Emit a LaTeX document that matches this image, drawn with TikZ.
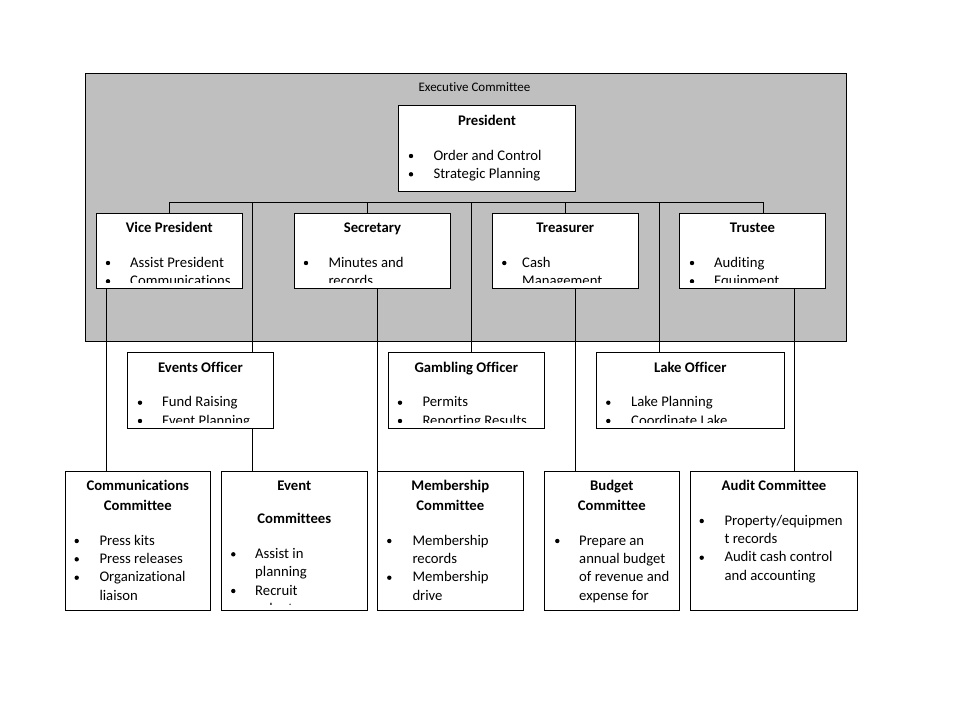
\documentclass[tikz,border=0pt]{standalone}
\usepackage{fontspec}
\setmainfont[Ligatures={NoCommon}]{Carlito}
\usetikzlibrary{calc}
\tikzset{
  box/.style={draw=black, fill=white, line width=0.8pt, inner sep=0pt, outer sep=0pt},
  exbox/.style={draw=black, fill=exgray, line width=0.8pt, inner sep=0pt, outer sep=0pt},
  txt/.style={anchor=base west, inner sep=0pt, font=\fontsize{14.7}{17}\selectfont},
  ttl/.style={anchor=base, inner sep=0pt, font=\bfseries\fontsize{14.7}{17}\selectfont},
  bul/.style={circle, fill=black, inner sep=0pt, minimum size=4.4pt},
  conn/.style={draw=black, line width=0.8pt},
}
\definecolor{exgray}{RGB}{191,191,191}
\newcommand\boxn[6][box]{\node[#1, minimum width={#5-#3}, minimum height={#6-#4}] (#2) at ({(#3+#5)/2},{(#4+#6)/2}) {};}
\newcommand\bline[5]{\node[bul] (#1b) at ({#2},{#4-4}) {}; \node[txt] (#1) at ({#3},{#4}) {#5};}
\newcommand\tline[4]{\node[txt] (#1) at ({#2},{#3}) {#4};}
\newcommand\ttline[4]{\node[ttl] (#1) at ({#2},{#3}) {#4};}
\newcommand\clipto[1]{\clip (#1.north west) rectangle ([yshift=5.5pt]#1.south east);}
\begin{document}
\begin{tikzpicture}[x=1pt,y=-1pt]
\useasboundingbox[fill=white] (0,0) rectangle (960,720);
% executive committee background
\boxn[exbox]{exec}{85}{73}{846.5}{341.7}
\node[anchor=base, inner sep=0pt, font=\fontsize{13}{15}\selectfont] (execlbl) at (474.5,91) {Executive Committee};

% boxes
\boxn{pres}{398.3}{105}{575.7}{191}
\boxn{vp}{96}{213.3}{242.7}{288.3}
\boxn{sec}{294.3}{213.3}{450.7}{288.3}
\boxn{tre}{492.3}{213.3}{638.3}{288.3}
\boxn{tru}{679.3}{213.3}{825.7}{288.3}
\boxn{evo}{127.7}{352.3}{273.3}{428.3}
\boxn{gam}{388.3}{352.3}{544.3}{428.3}
\boxn{lak}{596.3}{352.3}{784.3}{428.3}
\boxn{com}{65.7}{471}{210}{610}
\boxn{evc}{221.7}{471}{367}{610}
\boxn{mem}{377.3}{471}{523.3}{610}
\boxn{bud}{544.3}{471}{679.3}{610}
\boxn{aud}{690.3}{471}{857.7}{610}

% connector coordinates
\coordinate (busR) at (763.3,202.3);
\coordinate (secS) at (367.3,202.3);
\coordinate (treS) at (565.7,202.3);
\coordinate (evS) at (252.3,202.3);
\coordinate (gamS) at (471.5,202.3);
\coordinate (lakS) at (659.3,202.3);
\coordinate (vpD) at (106.7,288.3);
\coordinate (secD) at (377.3,288.3);
\coordinate (treD) at (575.7,288.3);
\coordinate (truD) at (794.3,288.3);

% connectors
\draw[conn] (vp.north) |- (busR) -- (busR |- tru.north);
\draw[conn] (secS) -- (secS |- sec.north);
\draw[conn] (treS) -- (treS |- tre.north);
\draw[conn] (evS) -- (evS |- evo.north);
\draw[conn] (evo.south -| evS) -- (evS |- evc.north);
\draw[conn] (gamS) -- (gamS |- gam.north);
\draw[conn] (lakS) -- (lakS |- lak.north);
\draw[conn] (vpD) -- (vpD |- com.north);
\draw[conn] (secD) -- (secD |- mem.north);
\draw[conn] (treD) -- (treD |- bud.north);
\draw[conn] (truD) -- (truD |- aud.north);

% President
\begin{scope}\clipto{pres}
\ttline{presT}{487}{125}{President}
\bline{presA}{411}{433.3}{160}{Order and Control}
\bline{presB}{411}{433.3}{178.3}{Strategic Planning}
\end{scope}
% Vice President
\begin{scope}\clipto{vp}
\ttline{vpT}{169.3}{232.7}{Vice President}
\bline{vpA}{108}{130}{267}{Assist President}
\bline{vpB}{108}{130}{285.3}{Communications}
\end{scope}
% Secretary
\begin{scope}\clipto{sec}
\ttline{secT}{372.5}{232.7}{Secretary}
\bline{secA}{306}{328.3}{267}{Minutes and}
\tline{secB}{328.3}{285.3}{records}
\end{scope}
% Treasurer
\begin{scope}\clipto{tre}
\ttline{treT}{565.3}{232.7}{Treasurer}
\bline{treA}{504.3}{522}{267}{Cash}
\tline{treB}{522}{285.3}{Management}
\end{scope}
% Trustee
\begin{scope}\clipto{tru}
\ttline{truT}{752.5}{232.7}{Trustee}
\bline{truA}{692}{714}{267}{Auditing}
\bline{truB}{692}{714}{285.3}{Equipment}
\end{scope}
% Events Officer
\begin{scope}\clipto{evo}
\ttline{evoT}{200.5}{372.3}{Events Officer}
\bline{evoA}{140}{162}{406.7}{Fund Raising}
\bline{evoB}{140}{162}{425}{Event Planning}
\end{scope}
% Gambling Officer
\begin{scope}\clipto{gam}
\ttline{gamT}{466.3}{372.3}{Gambling Officer}
\bline{gamA}{400}{422.3}{406.7}{Permits}
\bline{gamB}{400}{422.3}{425}{Reporting Results}
\end{scope}
% Lake Officer
\begin{scope}\clipto{lak}
\ttline{lakT}{690.3}{372.3}{Lake Officer}
\bline{lakA}{608.3}{631}{406.7}{Lake Planning}
\bline{lakB}{608.3}{631}{425}{Coordinate Lake}
\end{scope}
% Communications Committee
\begin{scope}\clipto{com}
\ttline{comT}{137.8}{490}{Communications}
\ttline{comU}{137.8}{510.7}{Committee}
\bline{comA}{76.7}{99.3}{545}{Press kits}
\bline{comB}{76.7}{99.3}{563.3}{Press releases}
\bline{comC}{76.7}{99.3}{581.7}{Organizational}
\tline{comD}{99.3}{600}{liaison}
\end{scope}
% Event Committees
\begin{scope}\clipto{evc}
\ttline{evcT}{294.3}{490}{Event}
\ttline{evcU}{294.3}{523.3}{Committees}
\bline{evcA}{233.3}{255}{558.3}{Assist in}
\tline{evcB}{255}{576.7}{planning}
\bline{evcC}{233.3}{255}{595}{Recruit}
\tline{evcD}{255}{613.3}{volunteers}
\end{scope}
% Membership Committee
\begin{scope}\clipto{mem}
\ttline{memT}{450.3}{490}{Membership}
\ttline{memU}{450.3}{510.7}{Committee}
\bline{memA}{389.3}{412.3}{545}{Membership}
\tline{memB}{412.3}{563.3}{records}
\bline{memC}{389.3}{412.3}{581.7}{Membership}
\tline{memD}{412.3}{600}{drive}
\end{scope}
% Budget Committee
\begin{scope}\clipto{bud}
\ttline{budT}{611.8}{490}{Budget}
\ttline{budU}{611.8}{510.7}{Committee}
\bline{budA}{557.3}{579}{545}{Prepare an}
\tline{budB}{579}{563.3}{annual budget}
\tline{budC}{579}{581.7}{of revenue and}
\tline{budD}{579}{600}{expense for}
\end{scope}
% Audit Committee
\begin{scope}\clipto{aud}
\ttline{audT}{774}{490}{Audit Committee}
\bline{audA}{701.7}{724.3}{525}{Property/equipmen}
\tline{audB}{724.3}{543.3}{t records}
\bline{audC}{701.7}{724.3}{561.7}{Audit cash control}
\tline{audD}{724.3}{580}{and accounting}
\end{scope}
\end{tikzpicture}
\end{document}
